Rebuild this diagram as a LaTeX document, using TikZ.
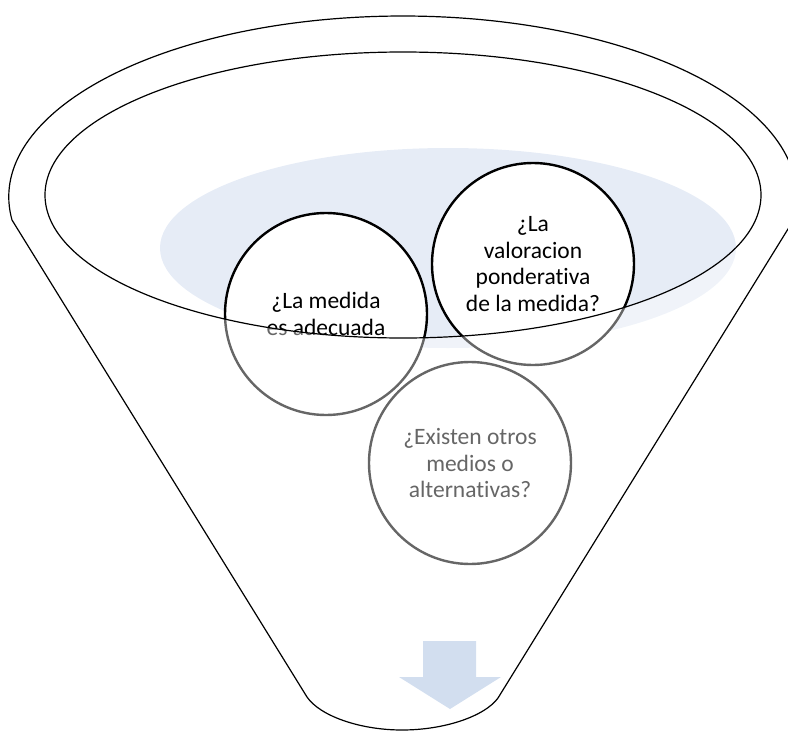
\documentclass[tikz,border=0pt]{standalone}
\usepackage{fontspec}
\setmainfont{Carlito}[RawFeature=-liga]
\definecolor{bluefill}{RGB}{230,236,246}
\definecolor{arrowblue}{RGB}{210,222,239}
\tikzset{
  funnelline/.style={draw=black, line width=1.2pt},
  bubble/.style={circle, draw=black, line width=2.4pt, fill=white, minimum size=202pt, inner sep=0pt, align=center,
    font=\fontsize{23.5}{26.5}\selectfont},
}
\begin{document}
\begin{tikzpicture}[x=1pt,y=-1pt]
\useasboundingbox (0,0) rectangle (788,731);
\begin{scope}
\clip (0,0) rectangle (788,731);
% light blue pool
\fill[bluefill] (448,248) ellipse [x radius=288, y radius=100];
% bubbles
\node[bubble] (c1) at (326,314) {¿La medida\\es adecuada};
\node[bubble] (c2) at (533,264) {¿La\\valoracion\\ponderativa\\de la medida?};
\node[bubble] (c3) at (470,463) {¿Existen otros\\medios o\\alternativas?};
% translucent funnel body (below the inner rim)
\fill[white, fill opacity=0.4, even odd rule]
  (12,220) arc[start angle=172.7, end angle=367.3, x radius=394, y radius=181]
  -- (498,698) .. controls (485,716) and (445,730) .. (402,730)
  .. controls (360,730) and (320,716) .. (307,697) -- cycle
  (403,195) ellipse [x radius=358, y radius=143];
% funnel outline
\draw[funnelline]
  (12,220) arc[start angle=172.7, end angle=367.3, x radius=394, y radius=181]
  -- (498,698) .. controls (485,716) and (445,730) .. (402,730)
  .. controls (360,730) and (320,716) .. (307,697) -- cycle;
\draw[funnelline] (403,195) ellipse [x radius=358, y radius=143];
% arrow
\fill[arrowblue] (423,641) -- (476,641) -- (476,677) -- (501,677) -- (450,709) -- (399,677) -- (423,677) -- cycle;
\end{scope}
\end{tikzpicture}
\end{document}
